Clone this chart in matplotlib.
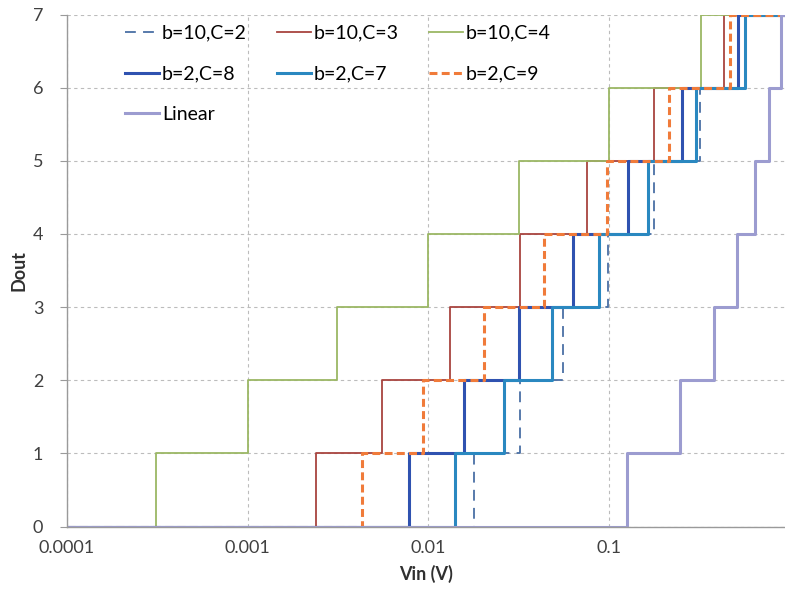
import matplotlib
matplotlib.use("Agg")
import matplotlib.pyplot as plt

# Vin where Dout steps from n-1 to n (n = 1..7)
LEVELS = [0, 1, 2, 3, 4, 5, 6, 7]
B10_C2 = [0.0178, 0.0321, 0.0556, 0.0993, 0.177, 0.318, 0.572]
B10_C3 = [0.00238, 0.00552, 0.0132, 0.032, 0.0755, 0.178, 0.432]
B10_C4 = [0.00031, 0.001, 0.00313, 0.01, 0.0316, 0.1, 0.324]
B2_C8 = [0.0078, 0.0157, 0.0316, 0.063, 0.127, 0.255, 0.518]
B2_C7 = [0.0141, 0.0263, 0.0483, 0.088, 0.164, 0.304, 0.566]
B2_C9 = [0.00427, 0.0093, 0.0203, 0.0437, 0.0969, 0.215, 0.470]
LINEAR = [0.125, 0.247, 0.383, 0.509, 0.644, 0.769, 0.895]

X_TICKS = [0.0001, 0.001, 0.01, 0.1]
X_TICK_LABELS = ["0.0001", "0.001", "0.01", "0.1"]
X_MIN = 0.0001
X_MAX = 0.942

FONT = "Lato"
plt.rcParams["font.family"] = [FONT, "DejaVu Sans"]

# label, data, color, width, dash
SERIES = [
    ("b=10,C=2", B10_C2, "#4a6fa5", 1.3, (0, (6, 4))),
    ("b=10,C=3", B10_C3, "#a8443f", 1.3, "-"),
    ("b=10,C=4", B10_C4, "#9bb765", 1.3, "-"),
    ("b=2,C=8", B2_C8, "#2f52b0", 2.2, "-"),
    ("b=2,C=7", B2_C7, "#2a88c0", 2.2, "-"),
    ("b=2,C=9", B2_C9, "#f07b3a", 2.2, (0, (2.6, 1.4))),
    ("Linear", LINEAR, "#9c9cd0", 2.2, "-"),
]


def step_coords(transitions):
    xs = [X_MIN] + list(transitions) + [1.0]
    ys = LEVELS + [LEVELS[-1]]
    return xs, ys


def main():
    fig = plt.figure(figsize=(7.85, 5.97), dpi=100)
    ax = fig.add_axes([0.0853, 0.118, 1.0 - 0.0853, 0.8577])

    handles = []
    for label, data, color, lw, ls in SERIES:
        xs, ys = step_coords(data)
        line, = ax.step(xs, ys, where="post", color=color, lw=lw, linestyle=ls, label=label)
        handles.append(line)

    ax.set_xscale("log")
    ax.set_xlim(X_MIN, X_MAX)
    ax.set_ylim(0, 7)
    ax.set_xticks(X_TICKS)
    ax.set_xticklabels(X_TICK_LABELS)
    ax.minorticks_off()
    ax.set_yticks(LEVELS)

    ax.grid(True, color="#bcbcbc", linestyle=(0, (3, 3)), linewidth=0.8)
    ax.set_axisbelow(True)
    for side in ["top", "right"]:
        ax.spines[side].set_visible(False)
    for side in ["left", "bottom"]:
        ax.spines[side].set_color("#9a9a9a")
        ax.spines[side].set_linewidth(1.0)

    ax.tick_params(axis="y", length=5, color="#9a9a9a", labelsize=13, labelcolor="#404040", pad=12)
    ax.tick_params(axis="x", length=0, labelsize=13, labelcolor="#404040", pad=10)

    ax.set_xlabel("Vin (V)", fontsize=13, fontweight="bold", color="#303030", labelpad=6)
    ax.set_ylabel("Dout", fontsize=13, fontweight="bold", color="#303030", labelpad=4)

    # legend is row-major in the reference, matplotlib fills columns first
    order = [0, 3, 6, 1, 4, 2, 5]
    ax.legend([handles[i] for i in order], [handles[i].get_label() for i in order],
              ncol=3, loc="upper left", bbox_to_anchor=(0.07, 0.995), frameon=False,
              fontsize=14, handlelength=1.75, handletextpad=0.15, columnspacing=1.55,
              labelspacing=1.22, borderaxespad=0)

    fig.savefig("out.png", dpi=100)


if __name__ == "__main__":
    main()
